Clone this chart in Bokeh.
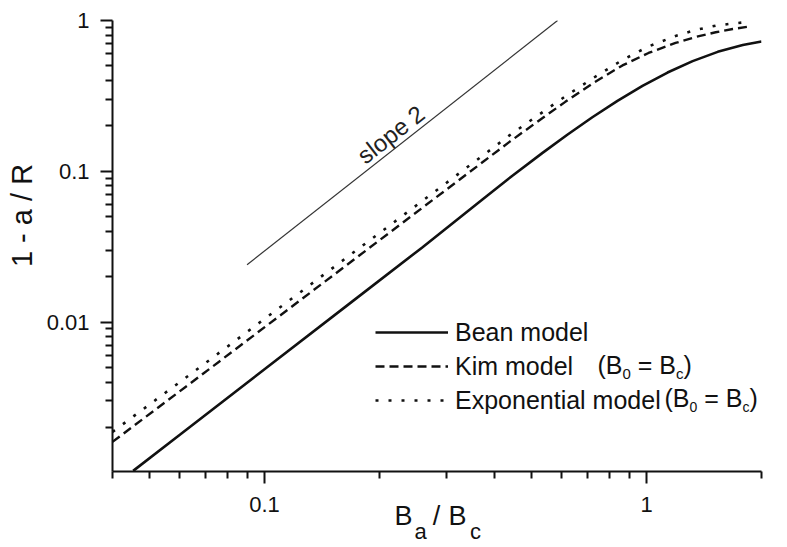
import math
from bokeh.plotting import figure
from bokeh.models import (Range1d, FixedTicker, CustomJSTickFormatter, Label,
                          Legend, LegendItem, LinearAxis, LinearScale)
from bokeh.embed import file_html
from bokeh.resources import INLINE

# ---- data ----
bean_x = [0.0453, 0.0605, 0.100, 0.1692, 0.2583, 0.3712, 0.4447, 0.5333, 0.6204, 0.7215,
          0.8394, 0.9761, 1.1353, 1.3206, 1.5359, 1.7865, 2.0]
bean_y = [0.00103, 0.001818, 0.004862, 0.01361, 0.03114, 0.0648, 0.0931, 0.1319, 0.1748, 0.2282,
          0.2930, 0.3684, 0.4518, 0.5376, 0.6194, 0.6871, 0.726]

kim_x = [0.04, 0.06834, 0.1251, 0.2289, 0.3712, 0.4369, 0.5175, 0.6129, 0.7260, 0.8650,
         1.0122, 1.1915, 1.3448, 1.5176, 1.6815, 1.875]
kim_y = [0.001604, 0.004449, 0.01418, 0.04519, 0.1142, 0.1561, 0.2128, 0.2886, 0.3856, 0.5035,
         0.6091, 0.7096, 0.7775, 0.8353, 0.8784, 0.9154]

exp_x = [0.04, 0.06834, 0.1251, 0.2289, 0.3712, 0.4369, 0.5175, 0.6129, 0.7260, 0.8650,
         1.0122, 1.1915, 1.3448, 1.5176, 1.6815, 1.7865]
exp_y = [0.001868, 0.005103, 0.01602, 0.05028, 0.1261, 0.1723, 0.2331, 0.3138, 0.4161, 0.5475,
         0.6727, 0.7896, 0.8652, 0.9239, 0.9552, 0.9700]

slope_x = [0.09, 0.585]
slope_y = [0.024, 1.0]

x_major = [0.1, 1]
x_minor = [0.04, 0.05, 0.06, 0.07, 0.08, 0.09, 0.2, 0.3, 0.4, 0.5, 0.6, 0.7, 0.8, 0.9, 2]
y_major = [0.01, 0.1, 1]
y_minor = [0.002, 0.003, 0.004, 0.005, 0.006, 0.007, 0.008, 0.009,
           0.02, 0.03, 0.04, 0.05, 0.06, 0.07, 0.08, 0.09,
           0.2, 0.3, 0.4, 0.5, 0.6, 0.7, 0.8, 0.9]

legend_labels = ["Bean model", "Kim model", "Exponential model"]
y_title = "1 - a / R"

FONT = "Liberation Sans"
INK = "#111111"

FRAME_W, FRAME_H = 649, 451
p = figure(width=787, height=547, x_axis_type="log", y_axis_type="log",
           x_range=Range1d(0.04, 2.0), y_range=Range1d(0.00102, 1.0),
           output_backend="svg", toolbar_location=None,
           min_border_left=112, min_border_right=26, min_border_top=20, min_border_bottom=76)
p.outline_line_color = None
p.xgrid.visible = False
p.ygrid.visible = False
p.background_fill_color = "white"
p.border_fill_color = "white"

p.xaxis.ticker = FixedTicker(ticks=x_major, minor_ticks=x_minor)
p.yaxis.ticker = FixedTicker(ticks=y_major, minor_ticks=y_minor)
fmt = CustomJSTickFormatter(code="return String(tick);")
p.xaxis.formatter = fmt
p.yaxis.formatter = fmt
for ax in (p.xaxis[0], p.yaxis[0]):
    ax.axis_line_width = 2
    ax.axis_line_color = INK
    ax.major_tick_line_width = 2
    ax.minor_tick_line_width = 2
    ax.major_tick_line_color = INK
    ax.minor_tick_line_color = INK
    ax.major_tick_in = 0
    ax.minor_tick_in = 0
    ax.major_tick_out = 12
    ax.minor_tick_out = 7
    ax.major_label_text_font = FONT
    ax.major_label_text_font_size = "22px"
    ax.major_label_text_color = INK
p.yaxis.major_label_standoff = 11
p.xaxis.major_label_standoff = 13

# axis titles built from label-only axes in pixel coordinates of the frame
p.extra_x_ranges = {"px": Range1d(0, FRAME_W)}
p.extra_x_scales = {"px": LinearScale()}
p.extra_y_ranges = {"py": Range1d(0, FRAME_H)}
p.extra_y_scales = {"py": LinearScale()}

def text_axis(pos_text, size, standoff, side):
    ticks = [t for t, _ in pos_text]
    kw = dict(ticker=FixedTicker(ticks=ticks, minor_ticks=[]),
              major_label_overrides={t: s for t, s in pos_text},
              axis_line_color=None, major_tick_line_color=None, minor_tick_line_color=None,
              major_tick_out=0, major_tick_in=0, minor_tick_out=0, minor_tick_in=0,
              major_label_standoff=standoff,
              major_label_text_font=FONT, major_label_text_font_size=f"{size}px",
              major_label_text_color=INK)
    if side == "below":
        ax = LinearAxis(x_range_name="px", **kw)
    else:
        ax = LinearAxis(y_range_name="py", major_label_orientation="vertical", **kw)
    p.add_layout(ax, side)

# x title: B_a / B_c  (main row, then subscript row)
text_axis([(403 - 112, "B"), (436 - 112, "/"), (457 - 112, "B")], 27, -14, "below")
text_axis([(420 - 112, "a"), (475 - 112, "c")], 22, -15, "below")
# y title
text_axis([(471 - 215, y_title)], 29, 6, "left")

r_bean = p.line(bean_x, bean_y, line_color=INK, line_width=2.6)
r_kim = p.line(kim_x, kim_y, line_color=INK, line_width=2.4, line_dash="9 5")
r_exp = p.line(exp_x, exp_y, line_color=INK, line_width=2.6, line_dash="3 10")
p.line(slope_x, slope_y, line_color="#333333", line_width=1.2)

# slope label along the reference line
t = 0.49
lx = 10 ** (math.log10(slope_x[0]) + t * (math.log10(slope_x[1]) - math.log10(slope_x[0])))
ly = 10 ** (math.log10(slope_y[0]) + t * (math.log10(slope_y[1]) - math.log10(slope_y[0])))
p.add_layout(Label(x=lx, y=ly, text="slope 2", angle=38.0, angle_units="deg",
                   text_align="center", text_baseline="bottom",
                   text_font=FONT, text_font_size="24px", text_color="#222222"))

legend = Legend(items=[LegendItem(label=legend_labels[0], renderers=[r_bean]),
                       LegendItem(label=legend_labels[1], renderers=[r_kim]),
                       LegendItem(label=legend_labels[2], renderers=[r_exp])],
                location=(263, 54), padding=0, margin=0, spacing=0,
                glyph_width=73, glyph_height=34, label_height=34, label_standoff=7,
                label_text_font=FONT, label_text_font_size="25px", label_text_color=INK,
                border_line_color=None, background_fill_alpha=0)
p.add_layout(legend)

# subscripted parts of legend labels, as pieces (screen units relative to frame)
W = {"(": 0.333, ")": 0.333, "B": 0.667, " ": 0.278, "=": 0.584, "0": 0.556, "c": 0.5}

def text_width(s, size):
    return sum(W[ch] for ch in s) * size

BASE_FIX = 11  # label anchor correction (px)

def add_pieces(x0, y_base, pieces, main, sub, sub_drop):
    x = x0
    for s, is_sub in pieces:
        size = sub if is_sub else main
        lead = len(s) - len(s.lstrip(" "))
        x += text_width(" " * lead, size)
        body = s.strip(" ")
        p.add_layout(Label(x=x, y=y_base + BASE_FIX - (sub_drop if is_sub else 0),
                           x_units="screen", y_units="screen",
                           text=body, text_align="left", text_baseline="alphabetic",
                           text_font=FONT, text_font_size=f"{size}px", text_color=INK))
        x += text_width(body, size)
        trail = len(s) - len(s.rstrip(" "))
        x += text_width(" " * trail, size)

paren = [("(B", False), ("0", True), (" = B", False), ("c", True), (")", False)]
frame_bottom = 471
add_pieces(597 - 112, frame_bottom - 375, paren, 25, 15, 9)
add_pieces(664 - 112, frame_bottom - 408, paren, 25, 14, 9)

open("out.html", "w").write(file_html(p, INLINE))
